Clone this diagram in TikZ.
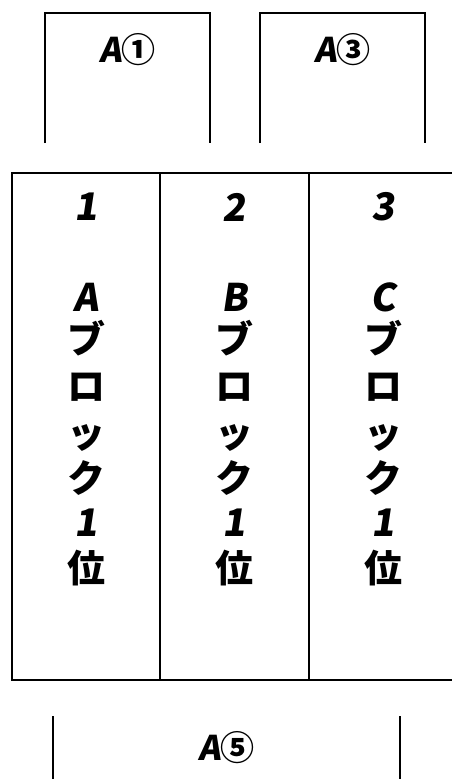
\documentclass[tikz,border=0pt]{standalone}
\usepackage{fontspec}
\newfontfamily\jp{Noto Sans CJK JP Black}
\newfontfamily\jpsl{Noto Sans CJK JP Black}[FakeSlant=0.15]
\tikzset{
  frame/.style={line width=2pt, black},
  lbl/.style={font=\jp\fontsize{34}{34}\selectfont, inner sep=0pt, anchor=center},
  ch/.style={font=\jp\fontsize{38}{38}\selectfont, inner sep=0pt, anchor=center},
  chsl/.style={font=\jpsl\fontsize{38}{38}\selectfont, inner sep=0pt, anchor=center},
}
\begin{document}
\begin{tikzpicture}[x=1pt,y=-1pt]
\useasboundingbox (0,0) rectangle (452,779);
\fill[white] (0,0) rectangle (452,779);
% top boxes (open at bottom)
\draw[frame] (45,143) -- (45,13) -- (210,13) -- (210,143);
\draw[frame] (260,143) -- (260,13) -- (425,13) -- (425,143);
\node[lbl] (a1) at (127.5,50) {{\jpsl A}①};
\node[lbl] (a3) at (342.5,50) {{\jpsl A}③};
% table
\draw[frame] (458,173) -- (12,173) -- (12,680) -- (458,680);
\draw[frame] (160,173) -- (160,680);
\draw[frame] (309,173) -- (309,680);
% column texts
\foreach \cx/\n/\L [count=\i] in {86/1/A, 234.5/2/B, 383/3/C}{
  \node[chsl] (h\i) at (\cx,207) {\n};
  \node[chsl] (l\i) at (\cx,297) {\L};
  \node[ch] (b\i) at (\cx,338) {ブ};
  \node[ch] (r\i) at (\cx,387) {ロ};
  \node[ch] (t\i) at (\cx,438) {ッ};
  \node[ch] (k\i) at (\cx,478) {ク};
  \node[chsl] (o\i) at (\cx,523) {1};
  \node[ch] (p\i) at (\cx,568) {位};
}
% bottom box (open at top)
\draw[frame] (53,716) -- (53,782);
\draw[frame] (400,716) -- (400,782);
\node[lbl] (a5) at (226.5,748) {{\jpsl A}⑤};
\end{tikzpicture}
\end{document}
